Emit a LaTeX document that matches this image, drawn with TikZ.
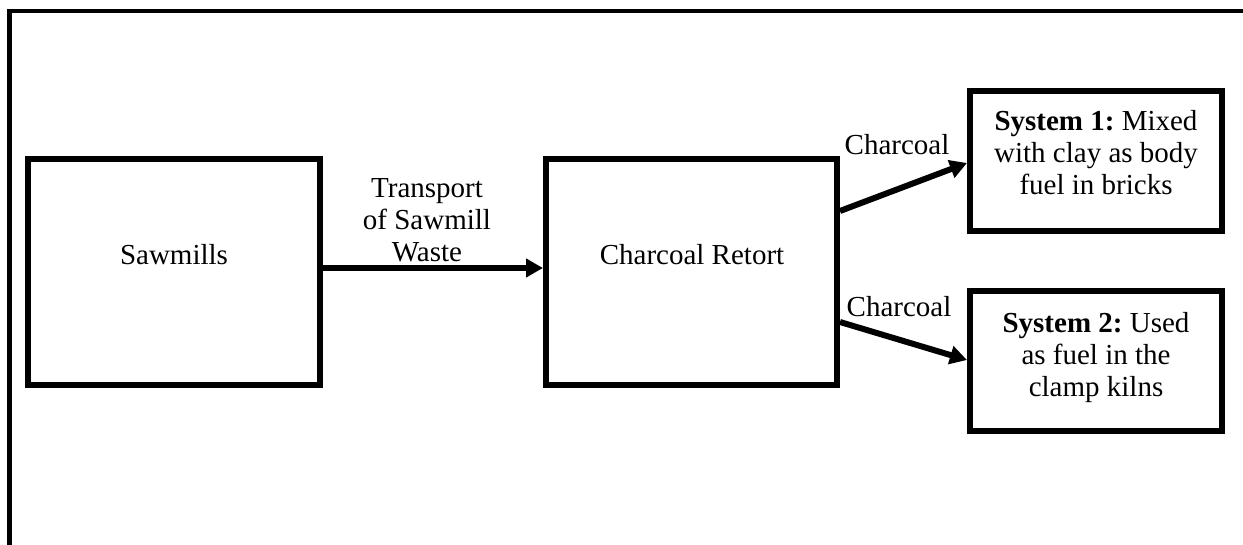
\documentclass[tikz,border=0pt]{standalone}
\usepackage{fontspec}
\setmainfont{Liberation Serif}
\usetikzlibrary{arrows.meta}
\frenchspacing
\begin{document}
\begin{tikzpicture}[x=1pt,y=-1pt,
  box/.style={draw,line width=6pt,inner sep=0pt},
  txt/.style={font=\fontsize{29pt}{32pt}\selectfont,inner sep=0pt,align=center},
  arr/.style={line width=6pt,-{Triangle[length=17pt,width=18pt]}}]
\useasboundingbox (0,0) rectangle (1243,545);
% outer frame (partly cut)
\draw[line width=4.3pt] (9.5,560) -- (9.5,11) -- (1260,11);
% boxes
\node[box,minimum width=292pt,minimum height=226pt] (saw) at (174,272) {};
\node[box,minimum width=291pt,minimum height=226pt] (ret) at (691.5,272) {};
\node[box,minimum width=252pt,minimum height=140pt] (s1) at (1096,161) {};
\node[box,minimum width=252pt,minimum height=140pt] (s2) at (1096,361) {};
% texts
\node[txt,anchor=base] (sawt) at (174,265) {Sawmills};
\node[txt,anchor=base] (rett) at (692,265) {Charcoal Retort};
\node[txt] (s1t) at (1096,153) {\textbf{System 1:} Mixed\\with clay as body\\fuel in bricks};
\node[txt] (s2t) at (1096,358) {\textbf{System 2:} Used\\as fuel in the\\clamp kilns};
\node[txt] (tr) at (427,220) {Transport\\of Sawmill\\Waste};
\node[txt,anchor=base] (c1) at (897,155) {Charcoal};
\node[txt,anchor=base] (c2) at (899,317) {Charcoal};
% arrows
\draw[arr] ([yshift=4pt]saw.east) -- ([yshift=4pt]ret.west);
\draw[arr] ([yshift=61pt]ret.east) -- ([yshift=-2pt]s1.west);
\draw[arr] ([yshift=-50pt]ret.east) -- ([yshift=1pt]s2.west);
\end{tikzpicture}
\end{document}
